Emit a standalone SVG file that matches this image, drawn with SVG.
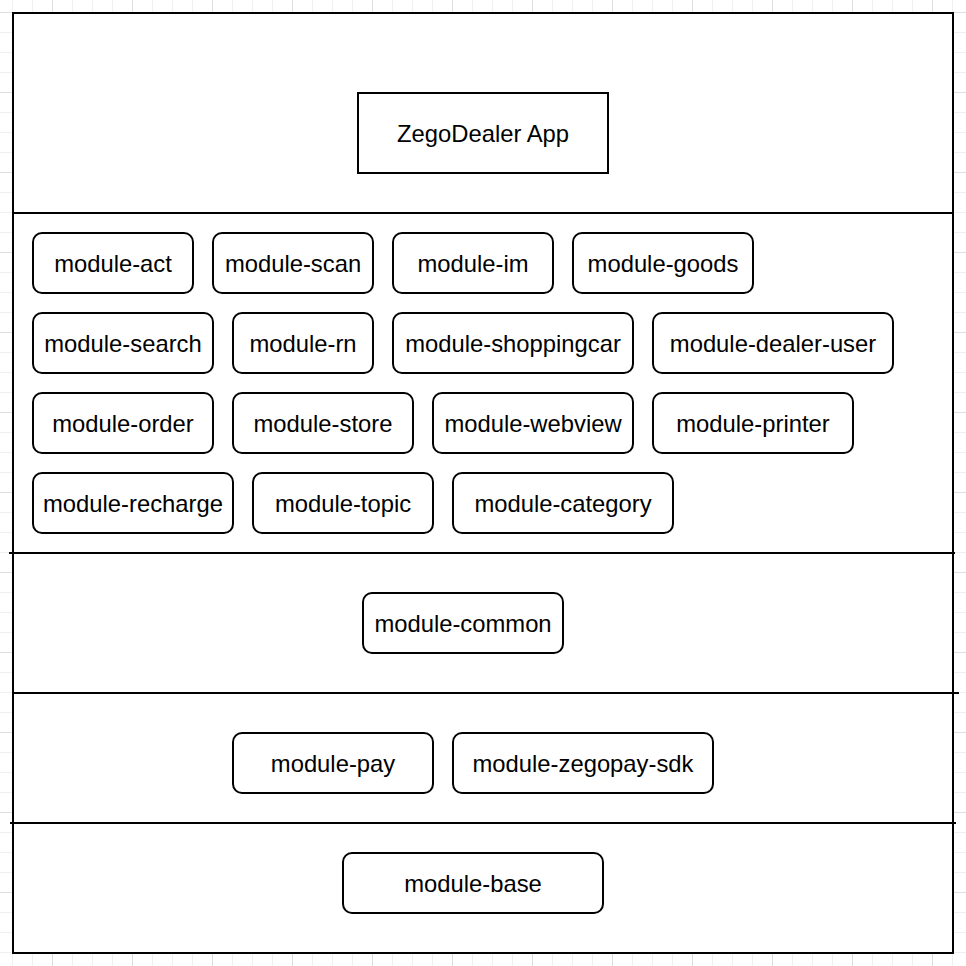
<svg xmlns="http://www.w3.org/2000/svg" width="966" height="966" viewBox="0 0 966 966">
<style>
.box{fill:#ffffff;stroke:#000000;stroke-width:2}
.lbl{font-family:"Liberation Sans",Arial,Helvetica,sans-serif;font-size:23.8px;fill:#000000;text-anchor:middle}
.sep{stroke:#000000;stroke-width:2;fill:none}
</style>
<defs>
<pattern id="minor" patternUnits="userSpaceOnUse" x="12" y="12" width="20" height="20">
<path d="M0.5 0V20M0 0.5H20" stroke="#f0f0f0" stroke-width="1" fill="none"/>
</pattern>
<pattern id="major" patternUnits="userSpaceOnUse" x="52" y="12" width="80" height="80">
<path d="M0.5 0V80M0 0.5H80" stroke="#dedede" stroke-width="1" fill="none"/>
</pattern>
</defs>
<rect width="966" height="966" fill="#ffffff"/>
<rect width="966" height="966" fill="url(#minor)"/>
<rect width="966" height="966" fill="url(#major)"/>
<g id="layers">
<rect class="box" x="13" y="13" width="940" height="940"/>
</g>
<g id="connectors">
<path class="sep" d="M13 213H953"/>
<path class="sep" d="M9 553H955"/>
<path class="sep" d="M13 693H959"/>
<path class="sep" d="M10 823H956"/>
</g>
<g id="app"><rect class="box" x="358" y="93" width="250" height="80"/><text class="lbl" x="483" y="141.8">ZegoDealer App</text></g>
<g id="module-act"><rect class="box" x="33" y="233" width="160" height="60" rx="9"/><text class="lbl" x="113" y="272.2">module-act</text></g>
<g id="module-scan"><rect class="box" x="213" y="233" width="160" height="60" rx="9"/><text class="lbl" x="293" y="272.2">module-scan</text></g>
<g id="module-im"><rect class="box" x="393" y="233" width="160" height="60" rx="9"/><text class="lbl" x="473" y="272.2">module-im</text></g>
<g id="module-goods"><rect class="box" x="573" y="233" width="180" height="60" rx="9"/><text class="lbl" x="663" y="272.2">module-goods</text></g>
<g id="module-search"><rect class="box" x="33" y="313" width="180" height="60" rx="9"/><text class="lbl" x="123" y="352.2">module-search</text></g>
<g id="module-rn"><rect class="box" x="233" y="313" width="140" height="60" rx="9"/><text class="lbl" x="303" y="352.2">module-rn</text></g>
<g id="module-shoppingcar"><rect class="box" x="393" y="313" width="240" height="60" rx="9"/><text class="lbl" x="513" y="352.2">module-shoppingcar</text></g>
<g id="module-dealer-user"><rect class="box" x="653" y="313" width="240" height="60" rx="9"/><text class="lbl" x="773" y="352.2">module-dealer-user</text></g>
<g id="module-order"><rect class="box" x="33" y="393" width="180" height="60" rx="9"/><text class="lbl" x="123" y="432.2">module-order</text></g>
<g id="module-store"><rect class="box" x="233" y="393" width="180" height="60" rx="9"/><text class="lbl" x="323" y="432.2">module-store</text></g>
<g id="module-webview"><rect class="box" x="433" y="393" width="200" height="60" rx="9"/><text class="lbl" x="533" y="432.2">module-webview</text></g>
<g id="module-printer"><rect class="box" x="653" y="393" width="200" height="60" rx="9"/><text class="lbl" x="753" y="432.2">module-printer</text></g>
<g id="module-recharge"><rect class="box" x="33" y="473" width="200" height="60" rx="9"/><text class="lbl" x="133" y="512.2">module-recharge</text></g>
<g id="module-topic"><rect class="box" x="253" y="473" width="180" height="60" rx="9"/><text class="lbl" x="343" y="512.2">module-topic</text></g>
<g id="module-category"><rect class="box" x="453" y="473" width="220" height="60" rx="9"/><text class="lbl" x="563" y="512.2">module-category</text></g>
<g id="module-common"><rect class="box" x="363" y="593" width="200" height="60" rx="9"/><text class="lbl" x="463" y="632.2">module-common</text></g>
<g id="module-pay"><rect class="box" x="233" y="733" width="200" height="60" rx="9"/><text class="lbl" x="333" y="772.2">module-pay</text></g>
<g id="module-zegopay-sdk"><rect class="box" x="453" y="733" width="260" height="60" rx="9"/><text class="lbl" x="583" y="772.2">module-zegopay-sdk</text></g>
<g id="module-base"><rect class="box" x="343" y="853" width="260" height="60" rx="9"/><text class="lbl" x="473" y="892.2">module-base</text></g>
</svg>
